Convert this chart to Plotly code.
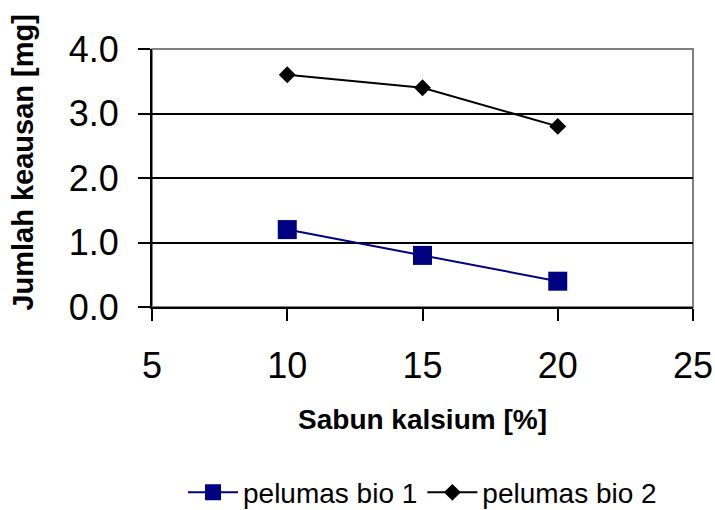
import plotly.graph_objects as go

sabun = [10, 15, 20]
bio1 = [1.2, 0.8, 0.4]
bio2 = [3.6, 3.4, 2.8]
names = ["pelumas bio 1", "pelumas bio 2"]
x_ticks = [5, 10, 15, 20, 25]
y_ticks = [0.0, 1.0, 2.0, 3.0, 4.0]
x_title = "Sabun kalsium [%]"
y_title = "Jumlah keausan [mg]"

FONT = "Liberation Sans, Arial, sans-serif"

fig = go.Figure()
fig.add_trace(go.Scatter(
    x=sabun, y=bio1, name=names[0], mode="lines+markers",
    line=dict(color="#000080", width=2),
    marker=dict(symbol="square", size=19, color="#000080"),
))
fig.add_trace(go.Scatter(
    x=sabun, y=bio2, name=names[1], mode="lines+markers",
    line=dict(color="#000000", width=2),
    marker=dict(symbol="diamond", size=13, color="#000000"),
))

fig.update_layout(
    width=715, height=510,
    margin=dict(l=152, r=22, t=49, b=203, autoexpand=False),
    paper_bgcolor="white", plot_bgcolor="white",
    font=dict(family=FONT, color="black"),
    showlegend=True,
    legend=dict(orientation="h", x=0.5, xanchor="center",
                yref="container", y=0.034, yanchor="middle",
                font=dict(size=28, family=FONT), tracegroupgap=0, itemwidth=50),
    shapes=[dict(type="rect", xref="paper", yref="paper", x0=0, x1=1, y0=0, y1=1,
                 line=dict(color="#808080", width=2), layer="below")],
    annotations=[dict(text=f"<b>{y_title}</b>", textangle=-90, xref="paper", yref="paper",
                      x=-0.24, y=0.56, xanchor="center", yanchor="middle", showarrow=False,
                      font=dict(size=29, family=FONT, color="black"))],
)
fig.update_xaxes(
    range=[5, 25], tickvals=x_ticks, ticktext=[str(v) for v in x_ticks],
    ticks="outside", ticklen=12, tickwidth=2, tickcolor="black",
    showline=True, linecolor="black", linewidth=2, showgrid=False, zeroline=False,
    automargin=False,
    tickfont=dict(size=36, family=FONT), ticklabelstandoff=14,
    title=dict(text=f"<b>{x_title}</b>", font=dict(size=28, family=FONT), standoff=24),
)
fig.update_yaxes(
    range=[0, 4], tickvals=y_ticks, ticktext=[f"{v:.1f}" for v in y_ticks],
    ticks="outside", ticklen=12, tickwidth=2, tickcolor="black",
    showline=True, linecolor="black", linewidth=2,
    showgrid=True, gridcolor="black", gridwidth=1.5, zeroline=False,
    automargin=False,
    tickfont=dict(size=36, family=FONT), ticklabelstandoff=12,
)

fig.write_html("out.html")
